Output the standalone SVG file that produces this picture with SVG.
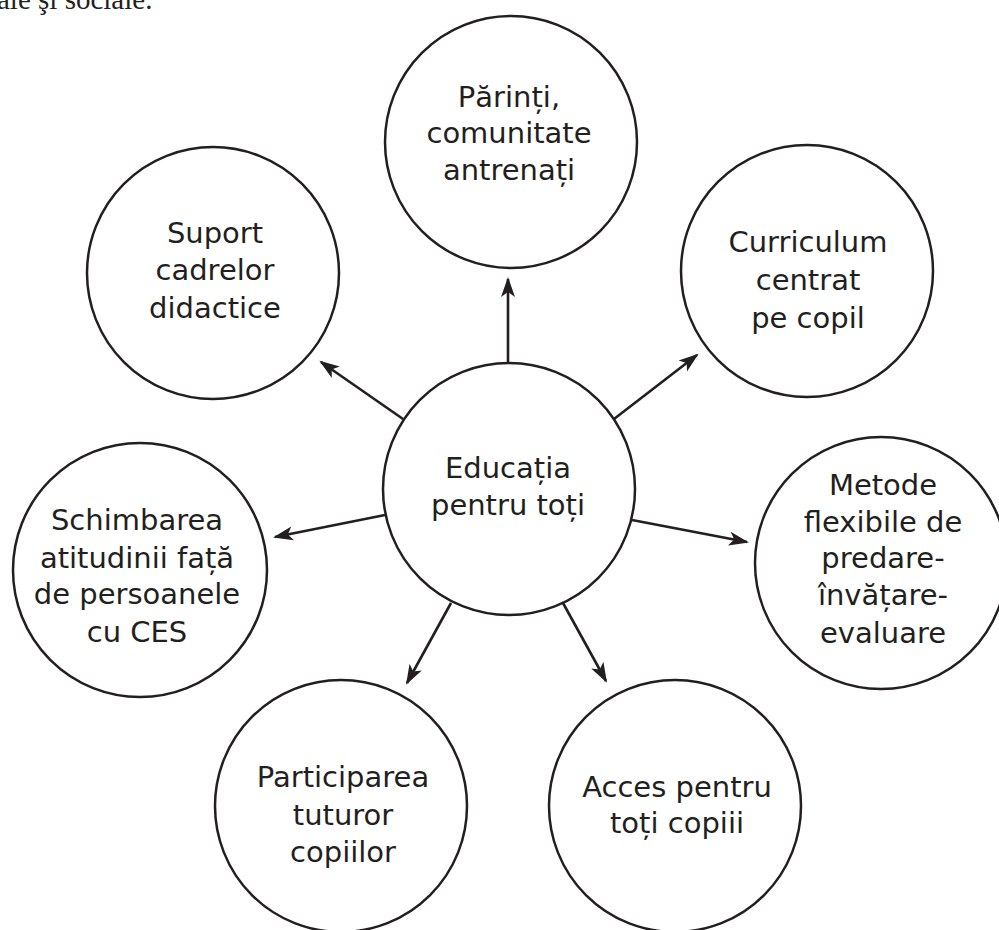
<svg xmlns="http://www.w3.org/2000/svg" width="999" height="930" viewBox="0 0 999 930">
<style>
.node circle{fill:#fff;stroke:#231f20;stroke-width:2.5}
.node text{font-family:"DejaVu Sans","Noto Sans",sans-serif;font-size:29px;fill:#231f20;text-anchor:middle}
.conn line{stroke:#231f20;stroke-width:2.6;marker-end:url(#ah)}
.cap{font-family:"Liberation Serif","Times New Roman",serif;font-size:29px;fill:#231f20}
</style>
<defs>
<marker id="ah" markerUnits="userSpaceOnUse" markerWidth="22" markerHeight="16" viewBox="0 0 22 16" refX="18" refY="8" orient="auto">
<path d="M0,1 L20,8 L0,15 L5,8 Z" fill="#231f20"/>
</marker>
</defs>
<rect width="999" height="930" fill="#fff"/>
<text class="cap" x="-3" y="9">ale şi sociale.</text>
<g id="connectors" class="conn">
<line x1="508" y1="363" x2="508" y2="279"/>
<line x1="403" y1="419" x2="321" y2="362"/>
<line x1="614" y1="419" x2="697" y2="355"/>
<line x1="632" y1="520" x2="747" y2="542"/>
<line x1="385" y1="515" x2="275" y2="537"/>
<line x1="451" y1="603" x2="407" y2="683"/>
<line x1="563" y1="603" x2="606" y2="681"/>
</g>
<g id="node-parinti" class="node">
<circle cx="511" cy="142" r="126"/>
<text x="509" y="107">Părinți,</text>
<text x="509" y="143">comunitate</text>
<text x="509" y="180">antrenați</text>
</g>
<g id="node-suport" class="node">
<circle cx="213" cy="273" r="126"/>
<text x="215" y="243">Suport</text>
<text x="215" y="280">cadrelor</text>
<text x="215" y="318">didactice</text>
</g>
<g id="node-curriculum" class="node">
<circle cx="807" cy="271" r="126"/>
<text x="808" y="252">Curriculum</text>
<text x="808" y="290">centrat</text>
<text x="808" y="328">pe copil</text>
</g>
<g id="node-center" class="node">
<circle cx="509" cy="489" r="126"/>
<text x="508" y="478">Educația</text>
<text x="508" y="515">pentru toți</text>
</g>
<g id="node-metode" class="node">
<circle cx="881" cy="563" r="126"/>
<text x="883" y="495">Metode</text>
<text x="883" y="532">flexibile de</text>
<text x="883" y="568">predare-</text>
<text x="883" y="605">învățare-</text>
<text x="883" y="643">evaluare</text>
</g>
<g id="node-schimbarea" class="node">
<circle cx="140" cy="570" r="127"/>
<text x="137" y="530">Schimbarea</text>
<text x="137" y="568">atitudinii față</text>
<text x="137" y="604">de persoanele</text>
<text x="137" y="642">cu CES</text>
</g>
<g id="node-participarea" class="node">
<circle cx="341" cy="806" r="126"/>
<text x="343" y="787">Participarea</text>
<text x="343" y="825">tuturor</text>
<text x="343" y="862">copiilor</text>
</g>
<g id="node-acces" class="node">
<circle cx="675" cy="806" r="126"/>
<text x="677" y="797">Acces pentru</text>
<text x="677" y="833">toți copiii</text>
</g>
</svg>
